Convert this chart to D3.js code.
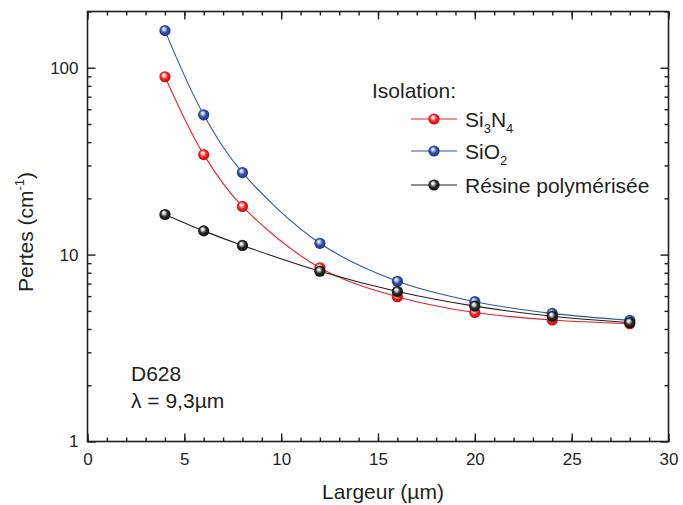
<!DOCTYPE html>
<html><head><meta charset="utf-8">
<script src="https://cdn.jsdelivr.net/npm/d3@7"></script>
<style>body{margin:0;background:#fff}text{font-family:"Liberation Sans",Arial,sans-serif;fill:#231f20}</style>
</head><body><svg id="c" width="683" height="505"></svg>
<script>
const widths = [4, 6, 8, 12, 16, 20, 24, 28];
const si3n4 = [89.5, 34.3, 18.1, 8.5, 5.95, 4.9, 4.47, 4.27];
const sio2 = [158, 56, 27.5, 11.5, 7.2, 5.6, 4.85, 4.45];
const resine = [16.4, 13.4, 11.2, 8.15, 6.35, 5.3, 4.68, 4.33];
const xTicks = [0, 5, 10, 15, 20, 25, 30];
const yTicks = [1, 10, 100];
const seriesNames = ["Si3N4", "SiO2", "Résine polymérisée"];

const svg = d3.select("#c");
const L = 87.5, R = 668.5, T = 11.5, B = 441.5;
const x = d3.scaleLinear().domain([0, 30]).range([L, R]);
const y = d3.scaleLog().domain([1, 200]).range([B, T]);
const ink = "#231f20";

const defs = svg.append("defs");
const cols = [
  {id: "gr", light: "#ffd0d0", mid: "#ee2a2a", dark: "#b00000", line: "#e8212b"},
  {id: "gb", light: "#c8d4ff", mid: "#3050a8", dark: "#1a2c70", line: "#3553a6"},
  {id: "gk", light: "#e0e0e0", mid: "#2a2a2a", dark: "#000", line: "#231f20"}
];
cols.forEach(c => {
  const g = defs.append("radialGradient").attr("id", c.id).attr("cx", "0.5").attr("cy", "0.5").attr("r", "0.6").attr("fx", "0.38").attr("fy", "0.32");
  g.append("stop").attr("offset", "0").attr("stop-color", "#fff");
  g.append("stop").attr("offset", "0.18").attr("stop-color", c.light);
  g.append("stop").attr("offset", "0.5").attr("stop-color", c.mid);
  g.append("stop").attr("offset", "1").attr("stop-color", c.dark);
});

// frame
svg.append("rect").attr("x", L).attr("y", T).attr("width", R - L).attr("height", B - T)
  .attr("fill", "none").attr("stroke", ink).attr("stroke-width", 1.6);

// axes with inward ticks
const xMinor = d3.range(0, 31, 1);
svg.append("g").attr("transform", `translate(0,${B})`).call(d3.axisBottom(x).tickValues(xMinor).tickSize(-4).tickFormat(""));
svg.append("g").attr("transform", `translate(0,${B})`).call(d3.axisBottom(x).tickValues(xTicks).tickSize(-8).tickPadding(11).tickFormat(d3.format("d")));
svg.append("g").attr("transform", `translate(0,${T})`).call(d3.axisTop(x).tickValues(xMinor).tickSize(-4).tickFormat(""));
svg.append("g").attr("transform", `translate(0,${T})`).call(d3.axisTop(x).tickValues(xTicks).tickSize(-8).tickFormat(""));
const yMinor = [];
[1, 10, 100].forEach(d => { for (let k = 2; k <= 9; k++) if (d * k <= 200) yMinor.push(d * k); });
svg.append("g").attr("transform", `translate(${L},0)`).call(d3.axisLeft(y).tickValues(yMinor).tickSize(-4).tickFormat(""));
svg.append("g").attr("transform", `translate(${L},0)`).call(d3.axisLeft(y).tickValues(yTicks).tickSize(-8).tickPadding(9).tickFormat(d3.format("d")));
svg.append("g").attr("transform", `translate(${R},0)`).call(d3.axisRight(y).tickValues(yMinor).tickSize(-4).tickFormat(""));
svg.append("g").attr("transform", `translate(${R},0)`).call(d3.axisRight(y).tickValues(yTicks).tickSize(-8).tickFormat(""));
svg.selectAll(".domain").remove();
svg.selectAll(".tick line").attr("stroke", ink).attr("stroke-width", 1.4);
svg.selectAll(".tick text").attr("font-size", 17).attr("fill", ink).style("font-family", '"Liberation Sans",Arial,sans-serif');

// series
const data = [si3n4, sio2, resine];
const line = d3.line().x(d => x(d[0])).y(d => y(d[1])).curve(d3.curveCatmullRom.alpha(0.5));
data.forEach((vals, i) => {
  const pts = widths.map((w, j) => [w, vals[j]]);
  svg.append("path").attr("d", line(pts)).attr("fill", "none").attr("stroke", cols[i].line).attr("stroke-width", 1.1);
});
[1, 0, 2].forEach(i => {
  svg.append("g").selectAll("circle").data(widths.map((w, j) => [w, data[i][j]])).join("circle")
    .attr("cx", d => x(d[0])).attr("cy", d => y(d[1])).attr("r", 5.6).attr("fill", `url(#${cols[i].id})`);
});

// legend
svg.append("text").attr("x", 372).attr("y", 98).attr("font-size", 21).text("Isolation:");
const ly = [119, 151, 185];
const labels = [
  t => { t.append("tspan").text("Si"); t.append("tspan").attr("font-size", 13).attr("dy", 6).text("3"); t.append("tspan").attr("dy", -6).text("N"); t.append("tspan").attr("font-size", 13).attr("dy", 6).text("4"); },
  t => { t.append("tspan").text("SiO"); t.append("tspan").attr("font-size", 13).attr("dy", 6).text("2"); },
  t => { t.text("Résine polymérisée"); }
];
ly.forEach((yy, i) => {
  svg.append("line").attr("x1", 411).attr("x2", 457).attr("y1", yy).attr("y2", yy).attr("stroke", cols[i].line).attr("stroke-width", 1.1);
  svg.append("circle").attr("cx", 434).attr("cy", yy).attr("r", 5.6).attr("fill", `url(#${cols[i].id})`);
  const t = svg.append("text").attr("x", 465).attr("y", yy + 8).attr("font-size", 21);
  labels[i](t);
});

// annotations
svg.append("text").attr("x", 131).attr("y", 381).attr("font-size", 21).text("D628");
svg.append("text").attr("x", 131).attr("y", 408).attr("font-size", 21).text("λ = 9,3µm");

// axis titles
svg.append("text").attr("x", 383).attr("y", 499).attr("text-anchor", "middle").attr("font-size", 21).text("Largeur (µm)");
const yt = svg.append("text").attr("transform", "translate(33,232) rotate(-90)").attr("text-anchor", "middle").attr("font-size", 21);
yt.append("tspan").text("Pertes (cm");
yt.append("tspan").attr("font-size", 13).attr("dy", -9).text("-1");
yt.append("tspan").attr("dy", 9).text(")");
</script></body></html>
